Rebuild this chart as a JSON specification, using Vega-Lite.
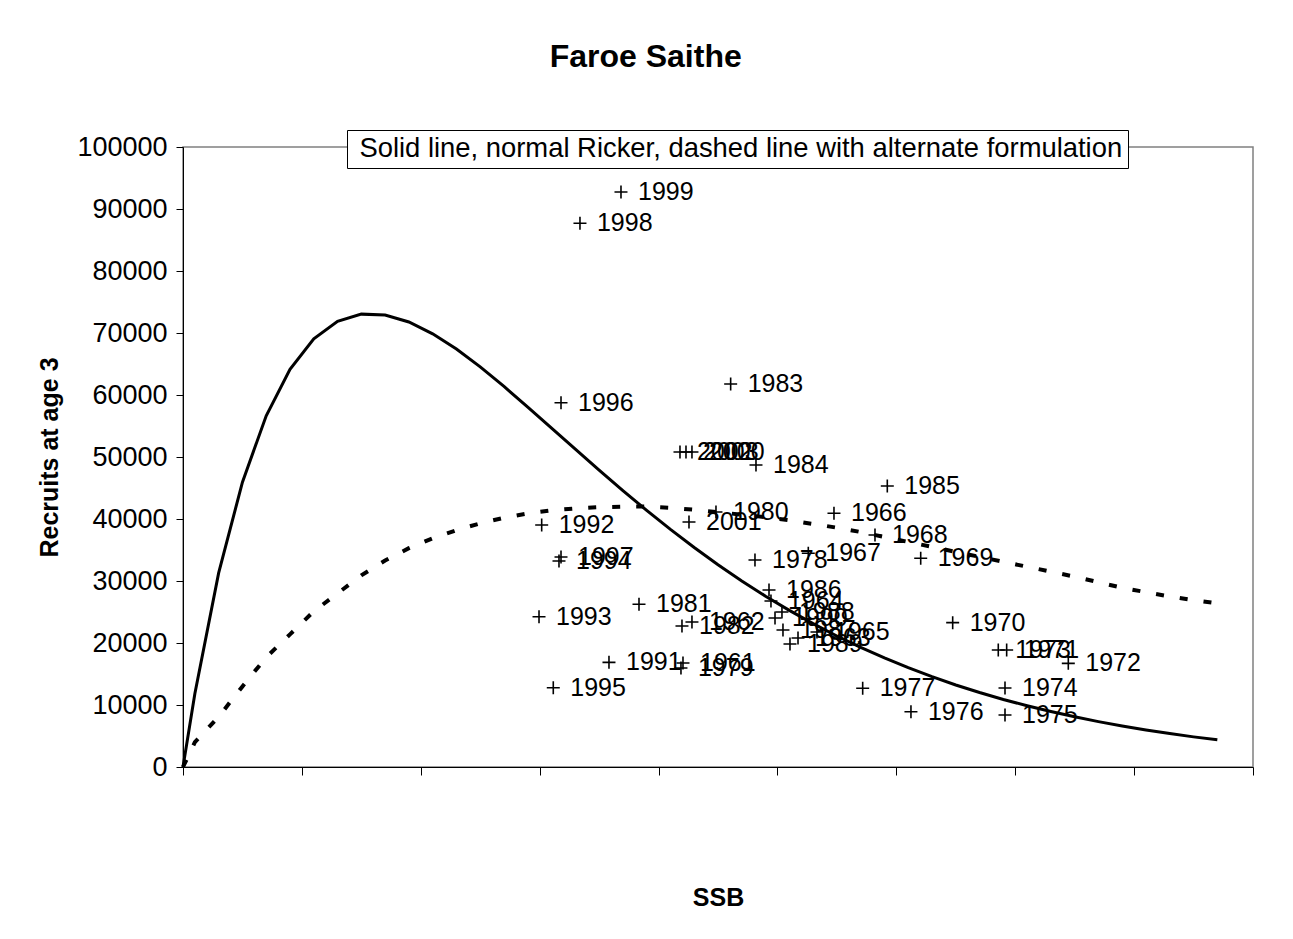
{
  "$schema": "https://vega.github.io/schema/vega-lite/v6.json",
  "width": 1070,
  "height": 620,
  "autosize": {"type": "none"},
  "padding": {"left": 183, "top": 147, "right": 40, "bottom": 172},
  "background": "white",
  "title": {
    "text": "Faroe Saithe",
    "font": "Liberation Sans",
    "fontSize": 32,
    "fontWeight": "bold",
    "color": "black",
    "anchor": "middle",
    "frame": "bounds",
    "offset": 56
  },
  "config": {
    "view": {"stroke": "#808080", "strokeWidth": 1.5},
    "axis": {
      "labelFont": "Liberation Sans",
      "titleFont": "Liberation Sans",
      "labelColor": "black",
      "titleColor": "black",
      "domainColor": "black",
      "tickColor": "black",
      "grid": false
    }
  },
  "datasets": {
    "ricker": [
      {"S": 0, "R": 0}, {"S": 2000, "R": 11846}, {"S": 6000, "R": 31300}, {"S": 10000, "R": 45944},
      {"S": 14000, "R": 56653}, {"S": 18000, "R": 64149}, {"S": 22000, "R": 69060}, {"S": 26000, "R": 71886},
      {"S": 30000, "R": 73044}, {"S": 34000, "R": 72912}, {"S": 38000, "R": 71778}, {"S": 42000, "R": 69870},
      {"S": 46000, "R": 67409}, {"S": 50000, "R": 64530}, {"S": 54000, "R": 61377}, {"S": 58000, "R": 58054},
      {"S": 62000, "R": 54662}, {"S": 66000, "R": 51274}, {"S": 70000, "R": 47888}, {"S": 74000, "R": 44586},
      {"S": 78000, "R": 41389}, {"S": 82000, "R": 38321}, {"S": 86000, "R": 35398}, {"S": 90000, "R": 32620},
      {"S": 94000, "R": 30006}, {"S": 98000, "R": 27553}, {"S": 102000, "R": 25260}, {"S": 106000, "R": 23119},
      {"S": 110000, "R": 21132}, {"S": 114000, "R": 19289}, {"S": 118000, "R": 17582}, {"S": 122000, "R": 16015},
      {"S": 126000, "R": 14568}, {"S": 130000, "R": 13233}, {"S": 134000, "R": 12017}, {"S": 138000, "R": 10895},
      {"S": 142000, "R": 9876}, {"S": 146000, "R": 8944}, {"S": 150000, "R": 8094}, {"S": 154000, "R": 7318},
      {"S": 158000, "R": 6613}, {"S": 162000, "R": 5972}, {"S": 166000, "R": 5390}, {"S": 170000, "R": 4861},
      {"S": 174000, "R": 4383}
    ],
    "alt": [
      {"S": 0, "R": 0}, {"S": 2000, "R": 4000}, {"S": 6000, "R": 8100}, {"S": 10000, "R": 13000},
      {"S": 14000, "R": 17700}, {"S": 18000, "R": 21400}, {"S": 22000, "R": 25100}, {"S": 26000, "R": 28000},
      {"S": 30000, "R": 30900}, {"S": 34000, "R": 33300}, {"S": 38000, "R": 35300}, {"S": 42000, "R": 36900},
      {"S": 46000, "R": 38200}, {"S": 50000, "R": 39300}, {"S": 54000, "R": 40200}, {"S": 58000, "R": 40900},
      {"S": 62000, "R": 41400}, {"S": 66000, "R": 41700}, {"S": 70000, "R": 41900}, {"S": 74000, "R": 42000},
      {"S": 78000, "R": 42000}, {"S": 82000, "R": 41800}, {"S": 86000, "R": 41500}, {"S": 90000, "R": 41100},
      {"S": 94000, "R": 40700}, {"S": 98000, "R": 40300}, {"S": 102000, "R": 39800}, {"S": 106000, "R": 39200},
      {"S": 110000, "R": 38600}, {"S": 114000, "R": 37900}, {"S": 118000, "R": 37100}, {"S": 122000, "R": 36300},
      {"S": 126000, "R": 35500}, {"S": 130000, "R": 34700}, {"S": 134000, "R": 33900}, {"S": 138000, "R": 33100},
      {"S": 142000, "R": 32300}, {"S": 146000, "R": 31500}, {"S": 150000, "R": 30700}, {"S": 154000, "R": 29800},
      {"S": 158000, "R": 28900}, {"S": 162000, "R": 28200}, {"S": 166000, "R": 27500}, {"S": 170000, "R": 26900},
      {"S": 174000, "R": 26400}
    ],
    "obs": [
      {"year": 1961, "S": 84110, "R": 16770}, {"year": 1962, "S": 85620, "R": 23390},
      {"year": 1963, "S": 103460, "R": 20810}, {"year": 1964, "S": 98910, "R": 26770},
      {"year": 1965, "S": 106650, "R": 21770}, {"year": 1966, "S": 109510, "R": 40920},
      {"year": 1967, "S": 105190, "R": 34470}, {"year": 1968, "S": 116410, "R": 37420},
      {"year": 1969, "S": 124100, "R": 33660}, {"year": 1970, "S": 129480, "R": 23280},
      {"year": 1971, "S": 138560, "R": 18870}, {"year": 1972, "S": 148930, "R": 16720},
      {"year": 1973, "S": 137150, "R": 18870}, {"year": 1974, "S": 138280, "R": 12740},
      {"year": 1975, "S": 138280, "R": 8390}, {"year": 1976, "S": 122460, "R": 8920},
      {"year": 1977, "S": 114340, "R": 12690}, {"year": 1978, "S": 96220, "R": 33390},
      {"year": 1979, "S": 83770, "R": 15970}, {"year": 1980, "S": 89660, "R": 41130},
      {"year": 1981, "S": 76710, "R": 26240}, {"year": 1982, "S": 83940, "R": 22740},
      {"year": 1983, "S": 92130, "R": 61770}, {"year": 1984, "S": 96390, "R": 48710},
      {"year": 1985, "S": 118480, "R": 45320}, {"year": 1986, "S": 98580, "R": 28550},
      {"year": 1987, "S": 100930, "R": 22100}, {"year": 1988, "S": 100760, "R": 25000},
      {"year": 1989, "S": 102110, "R": 19840}, {"year": 1990, "S": 99590, "R": 24030},
      {"year": 1991, "S": 71660, "R": 16880}, {"year": 1992, "S": 60340, "R": 39030},
      {"year": 1993, "S": 59890, "R": 24240}, {"year": 1994, "S": 63250, "R": 33230},
      {"year": 1995, "S": 62290, "R": 12790}, {"year": 1996, "S": 63590, "R": 58760},
      {"year": 1997, "S": 63590, "R": 33870}, {"year": 1998, "S": 66780, "R": 87690},
      {"year": 1999, "S": 73680, "R": 92740}, {"year": 2000, "S": 85620, "R": 50800},
      {"year": 2001, "S": 85120, "R": 39520}, {"year": 2002, "S": 83605, "R": 50800},
      {"year": 2003, "S": 84615, "R": 50800}
    ],
    "note": [
      {"note": "Solid line, normal Ricker, dashed line with alternate formulation"}
    ]
  },
  "layer": [
    {
      "data": {"name": "ricker"},
      "mark": {"type": "line", "color": "black", "strokeWidth": 3},
      "encoding": {
        "x": {
          "field": "S", "type": "quantitative",
          "scale": {"domain": [0, 180000], "nice": false, "zero": true},
          "axis": {
            "title": "SSB", "titleFontSize": 25, "titleFontWeight": "bold",
            "labels": false, "values": [0, 20000, 40000, 60000, 80000, 100000, 120000, 140000, 160000, 180000],
            "tickSize": 8, "titlePadding": 110
          }
        },
        "y": {
          "field": "R", "type": "quantitative",
          "scale": {"domain": [0, 100000], "nice": false},
          "axis": {
            "title": "Recruits at age 3", "titleFontSize": 25, "titleFontWeight": "bold",
            "values": [0, 10000, 20000, 30000, 40000, 50000, 60000, 70000, 80000, 90000, 100000],
            "format": "d", "labelFontSize": 27, "tickSize": 7, "labelPadding": 9, "titlePadding": 14
          }
        }
      }
    },
    {
      "data": {"name": "alt"},
      "mark": {"type": "line", "color": "black", "strokeWidth": 4, "strokeDash": [8, 16]},
      "encoding": {
        "x": {"field": "S", "type": "quantitative"},
        "y": {"field": "R", "type": "quantitative"}
      }
    },
    {
      "data": {"name": "obs"},
      "mark": {"type": "point", "shape": "M-1,0L1,0M0,-1L0,1", "size": 169, "filled": false, "stroke": "black", "strokeWidth": 1.6, "opacity": 1},
      "encoding": {
        "x": {"field": "S", "type": "quantitative"},
        "y": {"field": "R", "type": "quantitative"}
      }
    },
    {
      "data": {"name": "obs"},
      "mark": {"type": "text", "align": "left", "baseline": "middle", "dx": 17, "font": "Liberation Sans", "fontSize": 25, "color": "black"},
      "encoding": {
        "x": {"field": "S", "type": "quantitative"},
        "y": {"field": "R", "type": "quantitative"},
        "text": {"field": "year", "type": "nominal"}
      }
    },
    {
      "data": {"name": "note"},
      "mark": {"type": "point", "opacity": 0},
      "encoding": {
        "color": {
          "field": "note", "type": "nominal",
          "scale": {"range": ["black"]},
          "legend": {
            "title": null,
            "orient": "none",
            "legendX": 164,
            "legendY": -17,
            "strokeColor": "black",
            "fillColor": "white",
            "padding": 5,
            "symbolSize": 0,
            "symbolStrokeWidth": 0,
            "symbolOpacity": 0,
            "labelOffset": -20,
            "labelFont": "Liberation Sans",
            "labelFontSize": 27.4,
            "labelColor": "black",
            "labelLimit": 2000
          }
        }
      }
    }
  ]
}
